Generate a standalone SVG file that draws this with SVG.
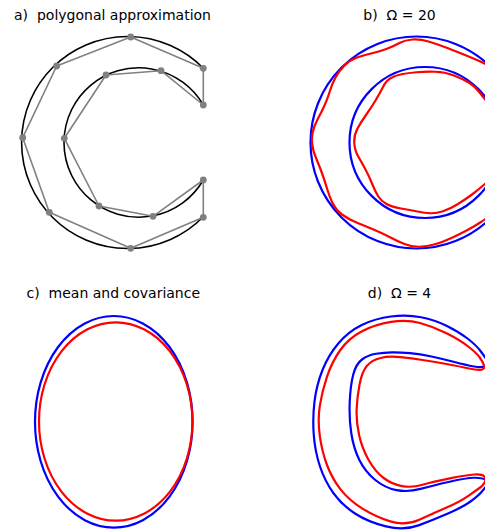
<svg xmlns="http://www.w3.org/2000/svg" width="485" height="530" viewBox="0 0 485 530">
<style>
text{font-family:"DejaVu Sans","Liberation Sans",sans-serif;font-size:14px;fill:#000;text-anchor:middle}
.k{fill:none;stroke:#000;stroke-width:1.6}
.g{fill:none;stroke:#808080;stroke-width:1.6;stroke-linejoin:round}
.d{fill:#808080}
.b{fill:none;stroke:#0000ff;stroke-width:2.2}
.r{fill:none;stroke:#ff0000;stroke-width:2.2}
</style>
<rect width="485" height="530" fill="#fff"/>
<g id="panel-a">
<text x="112.5" y="19.5" xml:space="preserve">a)  polygonal approximation</text>
<path class="k" d="M203.3,68.3 A106,106 0 1 0 203.3,216.7"/>
<path class="k" d="M203.3,105 A74.7,74.7 0 1 0 203.3,180"/>
<path class="g" d="M203.3,68.3 L130.7,37 L56.7,66 L22.7,137.7 L49.3,212.3 L130.7,248.3 L203.3,217.3 L203.3,180 L153,216.3 L99,206 L64.3,138.3 L106,75 L161,70.7 L203.3,105 Z"/>
<g class="d">
<circle cx="203.3" cy="68.3" r="3.4"/><circle cx="130.7" cy="37" r="3.4"/><circle cx="56.7" cy="66" r="3.4"/><circle cx="22.7" cy="137.7" r="3.4"/><circle cx="49.3" cy="212.3" r="3.4"/><circle cx="130.7" cy="248.3" r="3.4"/><circle cx="203.3" cy="217.3" r="3.4"/><circle cx="203.3" cy="180" r="3.4"/><circle cx="153" cy="216.3" r="3.4"/><circle cx="99" cy="206" r="3.4"/><circle cx="64.3" cy="138.3" r="3.4"/><circle cx="106" cy="75" r="3.4"/><circle cx="161" cy="70.7" r="3.4"/><circle cx="203.3" cy="105" r="3.4"/>
</g>
</g>
<g id="panel-b">
<text x="399.5" y="19.5" xml:space="preserve">b)  Ω = 20</text>
<circle class="b" cx="416.5" cy="142.5" r="106"/>
<circle class="b" cx="425" cy="142.5" r="75.5"/>
<path class="r" d="M495,69 Q485,63.5 477.5,60.25 T462.5,54 T446,47.5 T428.5,41.5 T412.5,39.5 T399.5,43 T387,48.75 T372,53.25 T357,57.5 T344.5,65.5 T335.5,77.5 T329.75,91.5 T324.25,106 T317.5,119.5 T312.75,132 T312.25,144.5 T316,158 T321.75,172.5 T327,188.5 T332.75,203.5 T342,214.5 T356.5,222.5 T373.5,229.5 T389.5,237 T404.5,244 T419.5,246.75 T435,244.25 T451.5,238 T467.5,230 T481,222 T495,212"/>
<path class="r" d="M495,110 Q485,100 480.5,93.5 T469.5,83 T454,75.5 T435,71.75 T416.5,72.25 T401.5,74.25 T390.5,78.25 T383,87 T375.5,100.5 T366,115 T357.5,128.5 T354.25,142.5 T358.25,156.5 T365.5,169.5 T372,183.5 T378,196 T386.5,204 T401,208.5 T417.5,211.5 T430.5,213.25 T443,211.25 T458,204 T472,194.5 T482.5,186 T495,176"/>
</g>
<g id="panel-c">
<text x="113.3" y="298" xml:space="preserve">c)  mean and covariance</text>
<ellipse class="b" cx="113.8" cy="421.8" rx="78.8" ry="105.8"/>
<ellipse class="r" cx="115.7" cy="421.5" rx="76.7" ry="99.2"/>
</g>
<g id="panel-d">
<text x="399.5" y="297.7" xml:space="preserve">d)  Ω = 4</text>
<path class="b" d="M421,317.25 Q435,320 447,326 T467.5,338.5 T480.5,351 T487,360.5 T485.5,366 T474,366.5 T454.5,362 T431.5,356.5 T410,353.15 T392,352.4 T376,353.75 T362,359.5 T353.25,374.5 T349.75,401.5 T351.25,433 T359.25,459.75 T375,479.75 T396.5,490.15 T420.5,488.9 T449.5,481.75 T474,477.75 T485.5,479.75 T487,485 T481.5,492 T470.5,501.5 T448,513.5 T418.5,525.35 T386,526.35 T355,513.5 T333.5,493.25 T320,466.5 T313.75,434.75 T314.5,401.5 T322.5,370 T338.5,343.25 T361.75,325 T391,316.5 T421,317.25 Z"/>
<path class="r" d="M420,323 Q433,326.5 446.5,333.25 T468.25,346.5 T479.75,357.5 T484,365.5 T481.5,369.75 T469,368.5 T446.5,364 T422.5,360 T400.5,357.2 T380.5,357.95 T367,365.75 T359.5,384.75 T356.6,409.85 T359.1,435 T368.65,460 T383.65,478 T402,486.1 T422.5,484.8 T449.85,478.35 T474.35,474.5 T484.25,476.5 T484.75,482.25 T479.85,487.75 T468.35,495.85 T446.65,507.5 T419.3,519.7 T390.3,521.4 T362,508.35 T340.35,489.15 T327,465 T319.8,435.85 T319.8,405.85 T327,376.7 T340.35,350 T362,331.3 T391.15,321.9 T420,323 Z"/>
</g>
</svg>
